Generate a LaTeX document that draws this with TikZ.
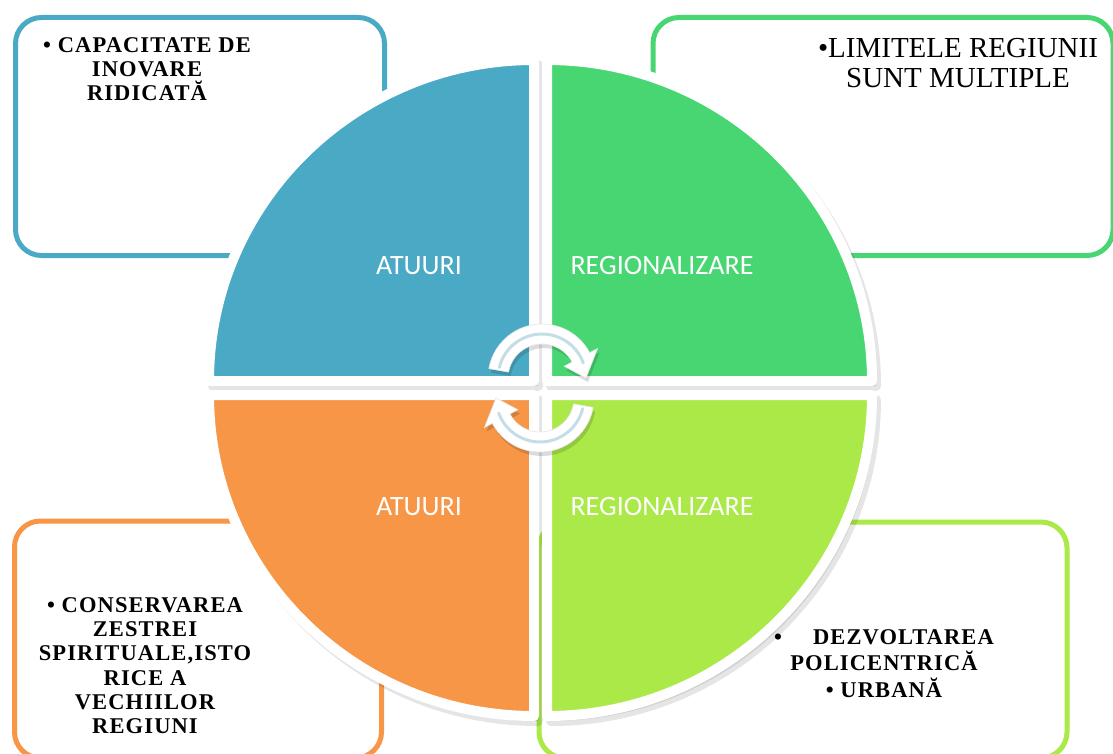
\documentclass[tikz,border=0pt]{standalone}
\usepackage{fontspec}
\setmainfont{Liberation Serif}
\newfontfamily\labelfont{Carlito}
\newfontfamily\boxfont[LetterSpace=5]{Liberation Serif}
\definecolor{qblue}{HTML}{4AAAC5}
\definecolor{qgreen}{HTML}{48D672}
\definecolor{qorange}{HTML}{F79646}
\definecolor{qlime}{HTML}{ABE948}
\definecolor{arrowline}{HTML}{C4DDE7}
\begin{document}
\begin{tikzpicture}[x=1pt,y=-1pt,
  infobox/.style={line width=5pt, rounded corners=26pt, fill=white, inner sep=0pt},
  quad/.style={draw=white, line width=10pt, line join=round},
  qshadow/.style={fill=black, draw=black, line width=10pt, line join=round, opacity=0.10},
  qlabel/.style={font=\labelfont\fontsize{28}{30}\selectfont, text=white, inner sep=0pt},
  bodytext/.style={font=\boxfont\bfseries\fontsize{22.5}{24.3}\selectfont, align=center, inner sep=0pt, text=black},
  toptext/.style={font=\fontsize{29}{30}\selectfont, align=center, inner sep=0pt, text=black},
  cyclearrow/.style={fill=white, draw=black!10, line width=0.6pt, line join=round},
  arrowshadow/.style={fill=black, opacity=0.14},
  arrowcore/.style={draw=arrowline, line width=3pt, line cap=round}
]
\useasboundingbox (0,0) rectangle (1113,754);
\clip (0,0) rectangle (1113,754);
\fill[white] (0,0) rectangle (1113,754);

% outer boxes
\node[infobox, draw=qblue, minimum width=369pt, minimum height=238pt] (boxTL) at (200,136.5) {};
\node[infobox, draw=qgreen, minimum width=460pt, minimum height=238pt] (boxTR) at (883,136.5) {};
\node[infobox, draw=qorange, minimum width=367pt, minimum height=237pt] (boxBL) at (198,639.5) {};
\node[infobox, draw=qlime, minimum width=528pt, minimum height=236pt] (boxBR) at (803,640) {};

% box texts
\node[bodytext, anchor=north] (txtTL) at (147,37) {• CAPACITATE DE\\INOVARE\\RIDICATĂ};
\node[toptext, anchor=north] (txtTR) at (958,38) {•LIMITELE REGIUNII\\SUNT MULTIPLE};
\node[bodytext, anchor=north] (txtBL) at (145,597) {• CONSERVAREA\\ZESTREI\\SPIRITUALE,ISTO\\RICE A\\VECHIILOR\\REGIUNI};
\node[bodytext, anchor=north, font=\boxfont\bfseries\fontsize{22.5}{26.5}\selectfont] (txtBR) at (884,629) {•\hspace{31pt}DEZVOLTAREA\\POLICENTRICĂ\\• URBANĂ};

% quadrant shadows
\begin{scope}[shift={(4,5)}]
\path[qshadow] (534,381) -- (209,381) arc[start angle=180, end angle=270, x radius=325, y radius=321] -- cycle;
\path[qshadow] (547,381) -- (547,60) arc[start angle=270, end angle=360, x radius=325, y radius=321] -- cycle;
\path[qshadow] (534,395) -- (209,395) arc[start angle=180, end angle=90, x radius=325, y radius=321] -- cycle;
\path[qshadow] (547,395) -- (872,395) arc[start angle=0, end angle=90, x radius=325, y radius=321] -- cycle;
\end{scope}

% quadrants
\path[quad, fill=qblue] (534,381) -- (209,381) arc[start angle=180, end angle=270, x radius=325, y radius=321] -- cycle;
\path[quad, fill=qgreen] (547,381) -- (547,60) arc[start angle=270, end angle=360, x radius=325, y radius=321] -- cycle;
\path[quad, fill=qorange] (534,395) -- (209,395) arc[start angle=180, end angle=90, x radius=325, y radius=321] -- cycle;
\path[quad, fill=qlime] (547,395) -- (872,395) arc[start angle=0, end angle=90, x radius=325, y radius=321] -- cycle;

% quadrant labels
\node[qlabel] (labTL) at (419,266) {ATUURI};
\node[qlabel] (labTR) at (662,266) {REGIONALIZARE};
\node[qlabel] (labBL) at (419,507) {ATUURI};
\node[qlabel] (labBR) at (662,507) {REGIONALIZARE};

% cycle arrows
\foreach \cx/\cy/\rot in {542/378/0, 540/398/180}{
  \begin{scope}[shift={(\cx+2,\cy+4)}, rotate=\rot]
    \path[arrowshadow] (-170:54) arc[start angle=-170, end angle=-28, radius=54] -- (-28:63) -- (0:44) -- (-28:25) -- (-28:34) arc[start angle=-28, end angle=-170, radius=34] -- cycle;
  \end{scope}
  \begin{scope}[shift={(\cx,\cy)}, rotate=\rot]
    \path[cyclearrow] (-170:54) arc[start angle=-170, end angle=-28, radius=54] -- (-28:63) -- (0:44) -- (-28:25) -- (-28:34) arc[start angle=-28, end angle=-170, radius=34] -- cycle;
    \draw[arrowcore] (-166:44) arc[start angle=-166, end angle=-20, radius=44];
  \end{scope}
}
\end{tikzpicture}
\end{document}
